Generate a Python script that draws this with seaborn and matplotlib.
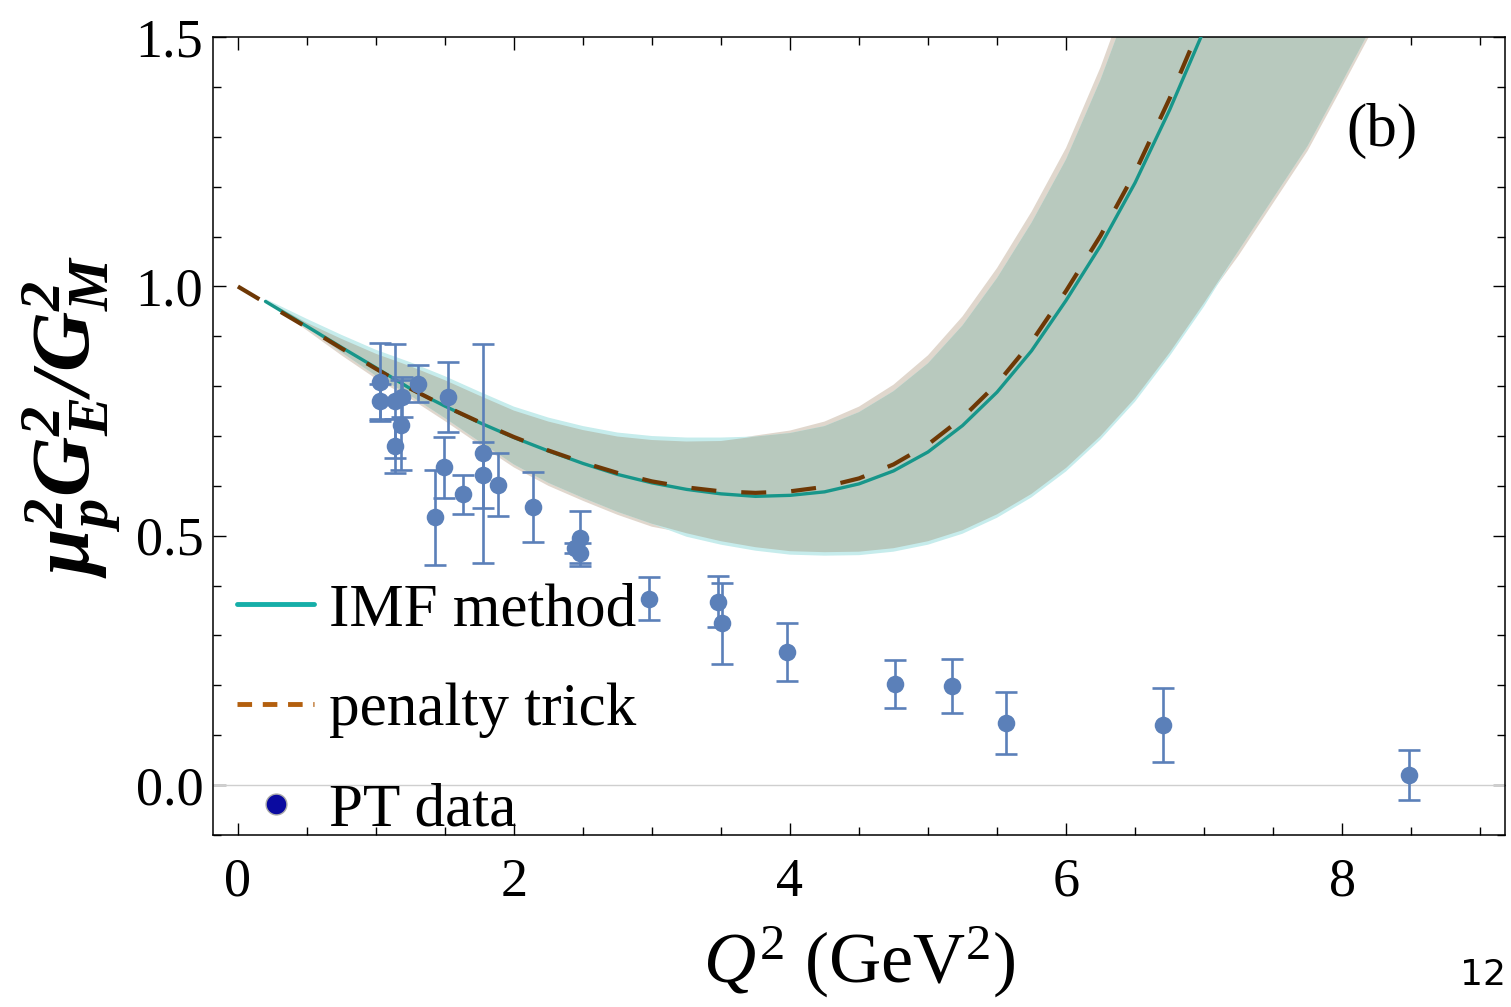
import matplotlib
matplotlib.use("Agg")
import matplotlib.pyplot as plt
from matplotlib.lines import Line2D
from matplotlib.ticker import MultipleLocator, FormatStrFormatter
import numpy as np
import pandas as pd
import seaborn as sns

# PT data: Q^2, ratio, error
pt_q2 = [1.026, 1.026, 1.14, 1.135, 1.188, 1.18, 1.304, 1.52, 1.49, 1.43,
         1.634, 1.775, 1.775, 1.888, 2.137, 2.44, 2.48, 2.48, 2.979, 3.481,
         3.51, 3.98, 4.763, 5.171, 5.562, 6.703, 8.484]
pt_ratio = [0.809, 0.770, 0.770, 0.680, 0.779, 0.722, 0.805, 0.779, 0.637, 0.537,
            0.583, 0.665, 0.622, 0.602, 0.558, 0.475, 0.495, 0.465, 0.374, 0.368,
            0.324, 0.267, 0.202, 0.199, 0.124, 0.120, 0.020]
pt_err = [0.078, 0.035, 0.114, 0.055, 0.040, 0.090, 0.037, 0.070, 0.062, 0.095,
          0.039, 0.220, 0.067, 0.063, 0.070, 0.010, 0.055, 0.020, 0.044, 0.052,
          0.081, 0.058, 0.048, 0.054, 0.062, 0.074, 0.051]

# curves and bands on a common Q^2 grid
nan = np.nan
q2_grid = [0.0, 0.2, 0.5, 0.75, 1.0, 1.25, 1.5, 1.75, 2.0, 2.25, 2.5, 2.75, 3.0,
           3.25, 3.5, 3.75, 4.0, 4.25, 4.5, 4.75, 5.0, 5.25, 5.5, 5.75, 6.0,
           6.25, 6.5, 6.75, 7.0, 7.25, 7.5, 7.75, 8.0, 8.25, 8.5]
imf_curve = [nan, 0.970, 0.920, 0.878, 0.837, 0.795, 0.760, 0.727, 0.697, 0.670,
             0.645, 0.623, 0.606, 0.593, 0.584, 0.579, 0.581, 0.588, 0.604, 0.630,
             0.668, 0.721, 0.788, 0.871, 0.972, 1.082, 1.208, 1.354, 1.515,
             nan, nan, nan, nan, nan, nan]
penalty_curve = [1.000, 0.967, 0.918, 0.876, 0.835, 0.795, 0.760, 0.728, 0.698,
                 0.671, 0.647, 0.626, 0.609, 0.597, 0.589, 0.586, 0.589, 0.598,
                 0.615, 0.643, 0.683, 0.737, 0.805, 0.889, 0.991, 1.102, 1.229,
                 1.377, 1.540, nan, nan, nan, nan, nan, nan]
imf_upper = [nan, 0.975, 0.935, 0.903, 0.873, 0.848, 0.820, 0.789, 0.759, 0.737,
             0.720, 0.707, 0.700, 0.697, 0.697, 0.699, 0.706, 0.720, 0.748, 0.790,
             0.846, 0.922, 1.017, 1.128, 1.255, 1.415, 1.600, 1.820, 2.050,
             2.27, 2.47, 2.67, 2.87, 3.07, 3.27]
imf_lower = [nan, 0.970, 0.918, 0.868, 0.821, 0.781, 0.736, 0.689, 0.643, 0.606,
             0.576, 0.548, 0.524, 0.498, 0.482, 0.470, 0.462, 0.460, 0.461, 0.468,
             0.482, 0.504, 0.536, 0.577, 0.629, 0.693, 0.769, 0.860, 0.960,
             1.072, 1.177, 1.282, 1.410, 1.540, 1.690]
penalty_upper = [nan, 0.973, 0.927, 0.895, 0.865, 0.840, 0.812, 0.781, 0.751,
                 0.729, 0.712, 0.699, 0.692, 0.689, 0.690, 0.701, 0.711, 0.729,
                 0.759, 0.803, 0.862, 0.940, 1.037, 1.150, 1.278, 1.440, 1.630,
                 1.850, 2.080, 2.30, 2.50, 2.70, 2.90, 3.10, 3.30]
penalty_lower = [nan, 0.970, 0.912, 0.862, 0.815, 0.775, 0.730, 0.683, 0.637,
                 0.600, 0.570, 0.542, 0.518, 0.505, 0.489, 0.477, 0.469, 0.467,
                 0.468, 0.475, 0.489, 0.511, 0.543, 0.584, 0.636, 0.700, 0.776,
                 0.867, 0.967, 1.062, 1.167, 1.272, 1.400, 1.530, 1.680]

sns.set_style("ticks")
plt.rcParams["font.family"] = ["Liberation Serif", "DejaVu Serif"]
plt.rcParams["mathtext.fontset"] = "custom"
plt.rcParams["mathtext.rm"] = "Liberation Serif"
plt.rcParams["mathtext.it"] = "Liberation Serif:italic"
plt.rcParams["mathtext.bf"] = "Liberation Serif:bold"
plt.rcParams["mathtext.bfit"] = "Liberation Serif:italic:bold"
for key in ["text.color", "axes.labelcolor", "xtick.color", "ytick.color",
            "axes.edgecolor"]:
    plt.rcParams[key] = "black"

fig = plt.figure(figsize=(15.11, 10.07), dpi=100)
ax = fig.add_axes([0.141, 0.171, 0.855, 0.792])

q2 = np.array(q2_grid)
iu, il = np.array(imf_upper), np.array(imf_lower)
pu, pl = np.array(penalty_upper), np.array(penalty_lower)
ax.fill_between(q2, pl, pu, color="#e0d7cd", lw=0, zorder=1)
ax.fill_between(q2, il, iu, color="#c6ecec", lw=0, zorder=1)
ax.fill_between(q2, np.maximum(il, pl), np.minimum(iu, pu), color="#b8c9be",
                lw=0, zorder=2)

ax.axhline(0, color="#cfcfcf", lw=1.0, zorder=1)

curves = pd.DataFrame({"q2": q2_grid, "imf": imf_curve, "penalty": penalty_curve})
sns.lineplot(data=curves, x="q2", y="imf", ax=ax, color="#17968a", lw=2.4,
             estimator=None, sort=False, zorder=3)
sns.lineplot(data=curves, x="q2", y="penalty", ax=ax, color="#6e3805", lw=3.0,
             linestyle=(0, (6, 6)), estimator=None, sort=False, zorder=4)

pt = pd.DataFrame({"q2": pt_q2, "ratio": pt_ratio, "err": pt_err})
ax.errorbar(pt["q2"], pt["ratio"], yerr=pt["err"], fmt="none", ecolor="#5b80b9",
            elinewidth=1.9, capsize=8, capthick=1.9, zorder=5)
sns.scatterplot(data=pt, x="q2", y="ratio", ax=ax, color="#5b80b9", s=160,
                linewidth=0, zorder=6)

ax.set_xlim(-0.18, 9.18)
ax.set_ylim(-0.1, 1.5)
ax.xaxis.set_major_locator(MultipleLocator(2))
ax.xaxis.set_minor_locator(MultipleLocator(0.5))
ax.yaxis.set_major_locator(MultipleLocator(0.5))
ax.yaxis.set_minor_locator(MultipleLocator(0.1))
ax.yaxis.set_major_formatter(FormatStrFormatter("%.1f"))
ax.tick_params(which="both", direction="in", top=True, right=True, width=1.0,
               labelsize=39)
ax.tick_params(which="major", length=9)
ax.tick_params(which="minor", length=6)
ax.tick_params(axis="x", pad=16)
ax.tick_params(axis="y", pad=7)
for sp in ax.spines.values():
    sp.set_linewidth(1.1)

ax.set_xlabel(r"$Q^2\ (\mathrm{GeV}^2)$", fontsize=52, labelpad=12)
ax.set_ylabel(r"$\mathbfit{\mu_p^2 G_E^2/G_M^2}$", fontsize=60)
ax.yaxis.set_label_coords(-0.07, 0.525)

ax.text(0.905, 0.883, "(b)", transform=ax.transAxes, fontsize=44,
        ha="center", va="center")

handles = [
    Line2D([], [], color="#16aea8", lw=3.5),
    Line2D([], [], color="#b35f0e", lw=3.5, linestyle=(0, (3, 2.2))),
    Line2D([], [], color="#0a0aa0", marker="o", ms=15, mec="#aaaaaa", mew=1,
           linestyle="none"),
]
ax.legend(handles, ["IMF method", "penalty trick", "PT data"], loc="lower left",
          bbox_to_anchor=(0.0, -0.035), frameon=False, fontsize=44,
          handlelength=1.25, handletextpad=0.25, labelspacing=0.72,
          borderaxespad=0.0)

fig.text(0.997, 0.032, "12", fontsize=26, family="DejaVu Sans",
         ha="right", va="center")

fig.savefig("out.png", dpi=100)
